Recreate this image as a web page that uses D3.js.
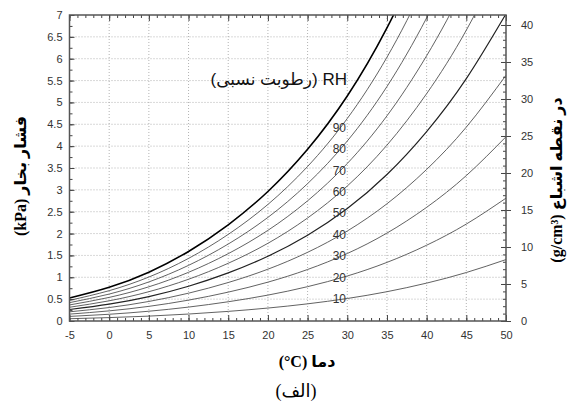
<!DOCTYPE html>
<html><head><meta charset="utf-8">
<script src="https://cdn.jsdelivr.net/npm/d3@7"></script>
<style>body{margin:0;background:#fff}svg{display:block}</style>
</head><body>
<svg id="chart" width="576" height="407"></svg>
<script>
// ---- data (curves in right-axis units) ----
const temperatures = [-5, 0, 5, 10, 15, 20, 25, 30, 35, 40, 45, 50];
const rhLevels = [10, 20, 30, 40, 50, 60, 70, 80, 90, 100];
const rh10  = [0.31, 0.46, 0.66, 0.94, 1.30, 1.75, 2.32, 3.04, 3.96, 5.12, 6.55, 8.30];
const rh20  = [0.62, 0.91, 1.32, 1.88, 2.60, 3.50, 4.64, 6.08, 7.92, 10.24, 13.10, 16.60];
const rh30  = [0.93, 1.37, 1.98, 2.82, 3.90, 5.25, 6.96, 9.12, 11.88, 15.36, 19.65, 24.90];
const rh40  = [1.24, 1.82, 2.64, 3.76, 5.20, 7.00, 9.28, 12.16, 15.84, 20.48, 26.20, 33.20];
const rh50  = [1.55, 2.28, 3.30, 4.70, 6.50, 8.75, 11.60, 15.20, 19.80, 25.60, 32.75, 41.50];
const rh60  = [1.86, 2.73, 3.96, 5.64, 7.80, 10.50, 13.92, 18.24, 23.76, 30.72, 39.30, 49.80];
const rh70  = [2.17, 3.19, 4.62, 6.58, 9.10, 12.25, 16.24, 21.28, 27.72, 35.84, 45.85, 58.10];
const rh80  = [2.48, 3.64, 5.28, 7.52, 10.40, 14.00, 18.56, 24.32, 31.68, 40.96, 52.40, 66.40];
const rh90  = [2.79, 4.10, 5.94, 8.46, 11.70, 15.75, 20.88, 27.36, 35.64, 46.08, 58.95, 74.70];
const rh100 = [3.10, 4.55, 6.60, 9.40, 13.00, 17.50, 23.20, 30.40, 39.60, 51.20, 65.50, 83.00];
const xTickValues = [-5, 0, 5, 10, 15, 20, 25, 30, 35, 40, 45, 50];
const leftTickValues = [0, 0.5, 1, 1.5, 2, 2.5, 3, 3.5, 4, 4.5, 5, 5.5, 6, 6.5, 7];
const rightTickValues = [0, 5, 10, 15, 20, 25, 30, 35, 40];
const labelTemp = 29;

const seriesValues = [rh10, rh20, rh30, rh40, rh50, rh60, rh70, rh80, rh90, rh100];
const series = rhLevels.map((rh, i) => ({
  rh, points: temperatures.map((t, j) => ({t, v: seriesValues[i][j]}))
}));

// ---- layout ----
const L = 69.5, R = 506, T = 15, B = 321;
const svg = d3.select("#chart");
const x = d3.scaleLinear().domain([-5, 50]).range([L, R]);
const y = d3.scaleLinear().domain([0, 7]).range([B, T]);
const yR = d3.scaleLinear().domain([0, 41.35]).range([B, T]);

// grid
const grid = svg.append("g").attr("stroke", "#a0a0a0").attr("stroke-width", 0.8)
  .attr("stroke-dasharray", "1,2");
grid.selectAll("line.gx").data(xTickValues.slice(1, -1)).join("line")
  .attr("x1", d => x(d)).attr("x2", d => x(d)).attr("y1", T).attr("y2", B);
grid.selectAll("line.gy").data(leftTickValues.slice(1, -1)).join("line")
  .attr("y1", d => y(d)).attr("y2", d => y(d)).attr("x1", L).attr("x2", R);

// curves
svg.append("clipPath").attr("id", "clip").append("rect")
  .attr("x", L).attr("y", T).attr("width", R - L).attr("height", B - T);
const line = d3.line().x(d => x(d.t)).y(d => yR(d.v)).curve(d3.curveNatural);
svg.append("g").attr("clip-path", "url(#clip)").selectAll("path").data(series).join("path")
  .attr("d", d => line(d.points)).attr("fill", "none")
  .attr("stroke", d => d.rh === 100 ? "#000" : (d.rh === 50 ? "#222" : "#505050"))
  .attr("stroke-width", d => d.rh === 100 ? 1.6 : (d.rh === 50 ? 1.2 : 0.9));

// curve labels
const interp = (pts, t) => {
  for (let i = 0; i < pts.length - 1; i++) {
    if (t >= pts[i].t && t <= pts[i + 1].t) {
      const f = (t - pts[i].t) / (pts[i + 1].t - pts[i].t);
      return pts[i].v + f * (pts[i + 1].v - pts[i].v);
    }
  }
};
svg.append("g").selectAll("text").data(series.filter(d => d.rh < 100)).join("text")
  .attr("x", x(labelTemp)).attr("y", d => yR(interp(d.points, labelTemp)))
  .attr("dy", "0.3em").attr("text-anchor", "middle")
  .attr("font-family", "Liberation Sans, Arial, sans-serif").attr("font-size", 12)
  .attr("fill", "#333").text(d => d.rh);

// axes
const axisStyle = g => {
  g.selectAll(".domain").remove();
  g.selectAll("line").attr("stroke", "#444");
  g.selectAll("text").attr("font-family", "Liberation Sans, Arial, sans-serif")
    .attr("font-size", 11).attr("fill", "#333");
};
const fmt = d => String(d);
const minorX = d3.range(-5, 51, 1);
const minorY = d3.range(0, 7.01, 0.25);
const minorR = d3.range(0, 41, 1);

svg.append("g").attr("transform", `translate(0,${B})`)
  .call(d3.axisBottom(x).tickValues(minorX).tickFormat("").tickSize(-3).tickSizeOuter(0)).call(axisStyle);
svg.append("g").attr("transform", `translate(0,${B})`)
  .call(d3.axisBottom(x).tickValues(xTickValues).tickFormat(fmt).tickSize(-6).tickSizeOuter(0).tickPadding(10)).call(axisStyle);
svg.append("g").attr("transform", `translate(0,${T})`)
  .call(d3.axisTop(x).tickValues(minorX).tickFormat("").tickSize(-3).tickSizeOuter(0)).call(axisStyle);
svg.append("g").attr("transform", `translate(0,${T})`)
  .call(d3.axisTop(x).tickValues(xTickValues).tickFormat("").tickSize(-6).tickSizeOuter(0)).call(axisStyle);

svg.append("g").attr("transform", `translate(${L},0)`)
  .call(d3.axisLeft(y).tickValues(minorY).tickFormat("").tickSize(-3).tickSizeOuter(0)).call(axisStyle);
svg.append("g").attr("transform", `translate(${L},0)`)
  .call(d3.axisLeft(y).tickValues(leftTickValues).tickSize(-5).tickSizeOuter(0).tickPadding(7)
    .tickFormat(fmt)).call(axisStyle);

svg.append("g").attr("transform", `translate(${R},0)`)
  .call(d3.axisLeft(yR).tickValues(minorR).tickFormat("").tickSize(3).tickSizeOuter(0)).call(axisStyle);
svg.append("g").attr("transform", `translate(${R},0)`)
  .call(d3.axisRight(yR).tickValues(rightTickValues).tickFormat(fmt).tickSize(5).tickSizeOuter(0).tickPadding(10)).call(axisStyle);
svg.append("g").attr("transform", `translate(${R},0)`)
  .call(d3.axisLeft(yR).tickValues(rightTickValues).tickFormat("").tickSize(5).tickSizeOuter(0)).call(axisStyle);

// frame
svg.append("rect").attr("x", L).attr("y", T).attr("width", R - L).attr("height", B - T)
  .attr("fill", "none").attr("stroke", "#555").attr("stroke-width", 1.5);

// titles
const titleFont = "Liberation Serif, DejaVu Sans, serif";
svg.append("text").attr("x", 307).attr("y", 367).attr("text-anchor", "middle")
  .attr("direction", "rtl").attr("font-family", titleFont).attr("font-weight", "bold")
  .attr("font-size", 16).text("دما (\u200E°C)");
svg.append("text").attr("x", 296).attr("y", 397).attr("text-anchor", "middle")
  .attr("direction", "rtl").attr("font-family", titleFont)
  .attr("font-size", 18).text("(الف)");
svg.append("text").attr("transform", "translate(26,176) rotate(-90)").attr("text-anchor", "middle")
  .attr("direction", "rtl").attr("font-family", titleFont).attr("font-weight", "bold")
  .attr("font-size", 16).text("فشار بخار (kPa)");
svg.append("text").attr("transform", "translate(562,180) rotate(-90)").attr("text-anchor", "middle")
  .attr("direction", "rtl").attr("font-family", titleFont).attr("font-weight", "bold")
  .attr("font-size", 16).text("در نقطه اشباع (g/cm³)");
svg.append("text").attr("x", 347).attr("y", 85).attr("text-anchor", "start")
  .attr("direction", "rtl").attr("font-family", "Liberation Sans, DejaVu Sans, sans-serif")
  .attr("font-size", 17).attr("fill", "#111").text("RH (رطوبت نسبی)");
</script>
</body></html>
